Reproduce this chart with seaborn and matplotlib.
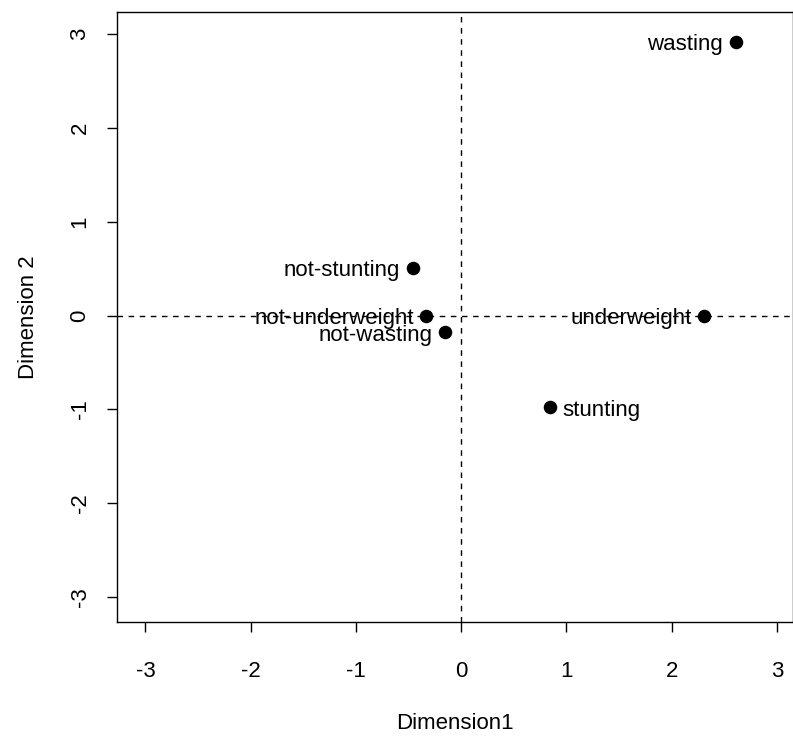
import matplotlib
matplotlib.use("Agg")
import matplotlib.pyplot as plt
import seaborn as sns
import pandas as pd

# Correspondence analysis coordinates
categories = ["wasting", "underweight", "stunting",
              "not-stunting", "not-underweight", "not-wasting"]
dim1 = [2.61, 2.31, 0.84, -0.46, -0.33, -0.15]
dim2 = [2.92, 0.00, -0.98, 0.51, 0.00, -0.18]
label_side = ["left", "left", "right", "left", "left", "left"]

ticks = [-3, -2, -1, 0, 1, 2, 3]

df = pd.DataFrame({"category": categories, "dim1": dim1, "dim2": dim2,
                   "side": label_side})

sns.set_style("ticks")
plt.rcParams["font.family"] = ["Liberation Sans", "DejaVu Sans"]
plt.rcParams["text.color"] = "black"
plt.rcParams["axes.labelcolor"] = "black"
plt.rcParams["xtick.color"] = "black"
plt.rcParams["ytick.color"] = "black"

FS = 16

fig = plt.figure(figsize=(7.93, 7.38), dpi=100)
ax = fig.add_axes([0.1475, 0.157, 0.852, 0.827])

ax.axhline(0, color="black", lw=1, ls=(0, (4, 4)))
ax.axvline(0, color="black", lw=1, ls=(0, (4, 4)))

sns.scatterplot(data=df, x="dim1", y="dim2", ax=ax, color="black",
                s=95, edgecolor="black", linewidth=0, zorder=3, legend=False)

for _, r in df.iterrows():
    if r["side"] == "left":
        ax.annotate(r["category"], (r["dim1"], r["dim2"]), xytext=(-9, -2),
                    textcoords="offset points", ha="right", va="center",
                    fontsize=FS)
    else:
        ax.annotate(r["category"], (r["dim1"], r["dim2"]), xytext=(9, -2),
                    textcoords="offset points", ha="left", va="center",
                    fontsize=FS)

ax.set_xlim(-3.27, 3.15)
ax.set_ylim(-3.27, 3.24)
ax.set_xticks(ticks)
ax.set_yticks(ticks)
ax.set_xticklabels([str(t) for t in ticks], fontsize=FS)
ax.set_yticklabels([str(t) for t in ticks], fontsize=FS, rotation=90,
                   va="center")
ax.tick_params(direction="out", length=7, width=1)
ax.tick_params(axis="x", pad=21)
ax.tick_params(axis="y", pad=12)
for s in ax.spines.values():
    s.set_linewidth(1)
    s.set_color("black")

ax.set_xlabel("Dimension1", fontsize=FS, labelpad=22)
ax.set_ylabel("Dimension 2", fontsize=FS, labelpad=22)

fig.savefig("out.png", dpi=100)
